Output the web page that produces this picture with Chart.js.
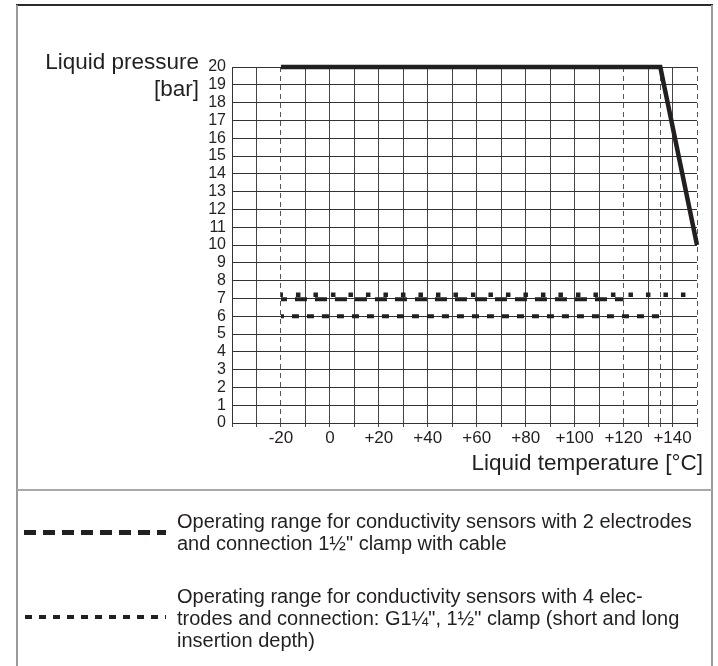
<!DOCTYPE html>
<html lang="en">
<head>
<meta charset="UTF-8">
<title>Liquid pressure / liquid temperature</title>
<style>
	body {
		margin: 0;
		background: #fff;
		font-family: "Liberation Sans", Arial, sans-serif;
		color: #231f20;
	}

	.frame {
		position: relative;
		width: 718px;
		height: 666px;
		overflow: hidden;
	}

	#chart {
		position: absolute;
		left: 0;
		top: 0;
	}

	.rule {
		position: absolute;
	}

	.txt {
		position: absolute;
		white-space: nowrap;
	}

	.axis-title {
		font-size: 22.5px;
		line-height: 27px;
		text-align: right;
	}

	.legend-text {
		left: 177px;
		font-size: 20px;
		line-height: 22px;
	}

	.swatch {
		position: absolute;
	}
</style>
</head>
<body>
<div class="frame">
	<div class="rule" style="left:16px; top:4px; width:697px; height:2px; background:#2b2b2b;"></div>
	<div class="rule" style="left:16px; top:5px; width:2px; height:661px; background:#9a9a9a;"></div>
	<div class="rule" style="left:711px; top:5px; width:2px; height:661px; background:#9a9a9a;"></div>
	<div class="rule" style="left:17px; top:489px; width:695px; height:2px; background:#a8a8a8;"></div>

	<canvas id="chart" width="718" height="666"></canvas>

	<div class="txt axis-title" style="right:519px; top:48px;">Liquid pressure<br>[bar]</div>
	<div class="txt axis-title" style="right:15px; top:449px;">Liquid temperature [°C]</div>

	<div class="swatch" style="left:24px; top:530px; width:142px; height:5px; background:repeating-linear-gradient(90deg, #231f20 0 12px, transparent 12px 19px);"></div>
	<div class="txt legend-text" style="top:510px;">Operating range for conductivity sensors with 2 electrodes<br>and connection 1½" clamp with cable</div>

	<div class="swatch" style="left:25px; top:615px; width:141px; height:4px; background:repeating-linear-gradient(90deg, #231f20 0 7px, transparent 7px 14px);"></div>
	<div class="txt legend-text" style="top:585px;">Operating range for conductivity sensors with 4 elec-<br>trodes and connection: G1¼", 1½" clamp (short and long<br>insertion depth)</div>
</div>

<script src="https://cdn.jsdelivr.net/npm/chart.js"></script>
<script>
	// values
	const maxTemp = [-20, 135, 150];
	const maxPressure = [20, 20, 10];

	const twoElTemp = [-20, 120];
	const twoElPressure = [6.95, 6.95];

	const fourElUpperTemp = [-20, 150];
	const fourElUpperPressure = [7.2, 7.2];

	const fourElLowerTemp = [-20, 135];
	const fourElLowerPressure = [6, 6];

	// axes
	const gridTemps = [-40, -30, -20, -10, 0, 10, 20, 30, 40, 50, 60, 70, 80, 90, 100, 110, 120, 130, 135, 140, 150];
	const dashedTemps = [-20, 120, 135, 150];
	const labelTemps = [-20, 0, 20, 40, 60, 80, 100, 120, 140];
	const pressureMin = 0;
	const pressureMax = 20;

	const ink = '#231f20';

	function points(xs, ys) {
		return xs.map((x, i) => ({ x: x, y: ys[i] }));
	}

	function tempLabel(v) {
		if (!labelTemps.includes(v)) return '';
		return v > 0 ? '+' + v : String(v);
	}

	const isDashed = (ctx) => ctx.tick && dashedTemps.includes(ctx.tick.value);

	new Chart(document.getElementById('chart'), {
		type: 'line',
		data: {
			datasets: [
				{
					data: points(fourElLowerTemp, fourElLowerPressure),
					borderColor: ink,
					borderWidth: 4,
					borderDash: [7, 8],
					borderDashOffset: 4,
					borderCapStyle: 'butt'
				},
				{
					data: points(fourElUpperTemp, fourElUpperPressure),
					borderColor: ink,
					borderWidth: 4.5,
					borderDash: [4.5, 13],
					borderDashOffset: 2.5,
					borderCapStyle: 'butt'
				},
				{
					data: points(twoElTemp, twoElPressure),
					borderColor: ink,
					borderWidth: 4,
					borderDash: [12, 8],
					borderDashOffset: 6,
					borderCapStyle: 'butt'
				},
				{
					data: points(maxTemp, maxPressure),
					borderColor: ink,
					borderWidth: 4.5,
					borderJoinStyle: 'miter',
					borderCapStyle: 'butt',
					clip: 6
				}
			]
		},
		options: {
			responsive: false,
			animation: false,
			elements: {
				point: { radius: 0 },
				line: { tension: 0 }
			},
			layout: {
				padding: { left: 0, top: 67, right: 21, bottom: 213 }
			},
			plugins: {
				legend: { display: false },
				tooltip: { enabled: false }
			},
			scales: {
				x: {
					type: 'linear',
					min: -40,
					max: 150,
					afterBuildTicks: (scale) => {
						scale.ticks = gridTemps.map(v => ({ value: v }));
					},
					afterFit: (scale) => {
						scale.height = 30;
					},
					ticks: {
						autoSkip: false,
						maxRotation: 0,
						padding: 1,
						color: ink,
						font: { family: 'Liberation Sans', size: 17 },
						callback: (v) => tempLabel(v)
					},
					grid: {
						color: (ctx) => isDashed(ctx) ? '#555' : '#444',
						lineWidth: 1,
						drawTicks: true,
						tickLength: 4
					},
					border: {
						color: '#333',
						width: 1,
						dash: (ctx) => isDashed(ctx) ? [5, 4] : []
					}
				},
				y: {
					min: pressureMin,
					max: pressureMax,
					afterFit: (scale) => {
						scale.width = 232;
					},
					ticks: {
						stepSize: 1,
						autoSkip: false,
						padding: 6,
						color: ink,
						font: { family: 'Liberation Sans', size: 16 }
					},
					grid: {
						color: '#333',
						lineWidth: 1,
						drawTicks: false
					},
					border: {
						color: '#333',
						width: 1
					}
				}
			}
		}
	});
</script>
</body>
</html>
